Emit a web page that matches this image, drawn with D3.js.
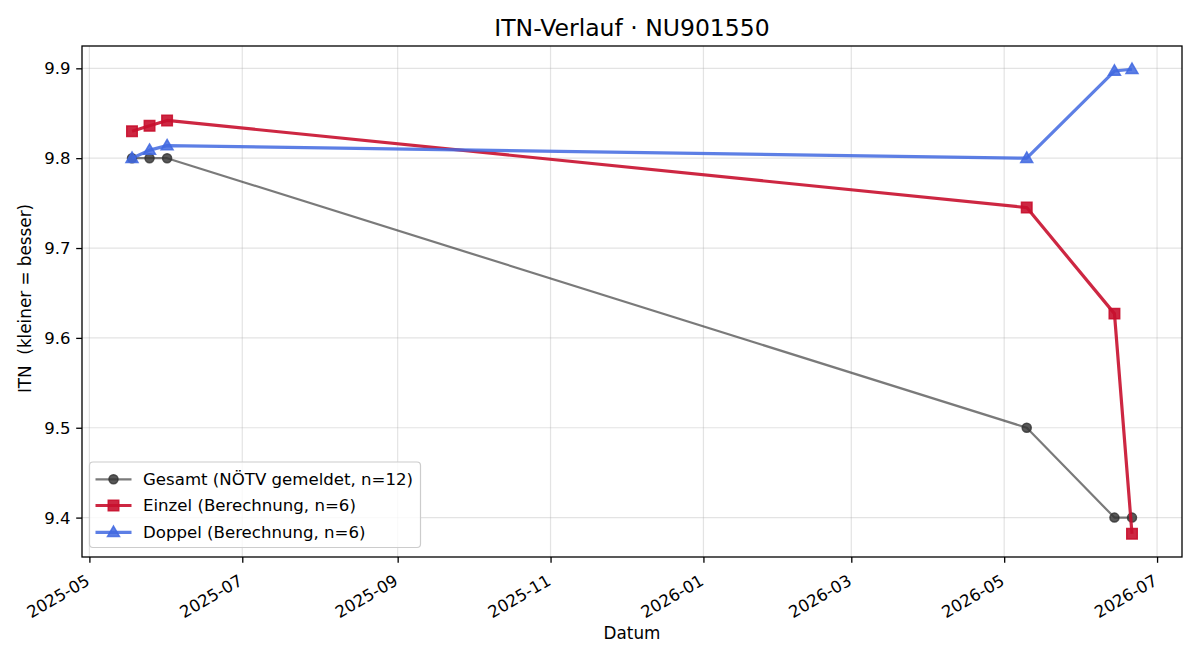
<!DOCTYPE html>
<html>
<head>
<meta charset="utf-8">
<script src="https://cdn.jsdelivr.net/npm/d3@7"></script>
<style>
  body { margin: 0; background: #fff; }
  text { font-family: "DejaVu Sans", sans-serif; fill: #000; }
</style>
</head>
<body>
<div id="chart"></div>
<script>
// data
var dates = ["2025-05-18", "2025-05-25", "2025-06-01", "2026-05-10", "2026-06-14", "2026-06-21"];
var gesamt = [9.8, 9.8, 9.8, 9.5, 9.4, 9.4];
var einzel = [9.83, 9.836, 9.842, 9.745, 9.627, 9.382];
var doppel = [9.8, 9.809, 9.814, 9.8, 9.897, 9.899];
var xTicks = ["2025-05", "2025-07", "2025-09", "2025-11", "2026-01", "2026-03", "2026-05", "2026-07"];
var yTicks = [9.4, 9.5, 9.6, 9.7, 9.8, 9.9];
var seriesNames = ["Gesamt (NÖTV gemeldet, n=12)", "Einzel (Berechnung, n=6)", "Doppel (Berechnung, n=6)"];

var width = 1200;
var height = 660;
// plot area edges
var pLeft = 82, pRight = 1182, pTop = 46, pBottom = 557;

var parseDay = d3.timeParse("%Y-%m-%d");
var parseMonth = d3.timeParse("%Y-%m");
var days = dates.map(parseDay);

var svg = d3.select("#chart")
    .append("svg")
    .attr("width", width)
    .attr("height", height);

// matplotlib style 5% margins
var xExt = d3.extent(days);
var xPad = (xExt[1] - xExt[0]) * 0.05;
var allY = gesamt.concat(einzel, doppel);
var yExt = d3.extent(allY);
var yPad = (yExt[1] - yExt[0]) * 0.05;

var xScale = d3.scaleTime()
    .domain([new Date(+xExt[0] - xPad), new Date(+xExt[1] + xPad)])
    .range([pLeft, pRight]);
var yScale = d3.scaleLinear()
    .domain([yExt[0] - yPad, yExt[1] + yPad])
    .range([pBottom, pTop]);

var tickDates = xTicks.map(parseMonth);

// grid
svg.append("g").selectAll("line").data(tickDates).enter()
    .append("line")
    .attr("x1", function(d) { return xScale(d); })
    .attr("x2", function(d) { return xScale(d); })
    .attr("y1", pTop).attr("y2", pBottom)
    .attr("stroke", "#b0b0b0").attr("stroke-opacity", 0.35).attr("stroke-width", 1.2);
svg.append("g").selectAll("line").data(yTicks).enter()
    .append("line")
    .attr("x1", pLeft).attr("x2", pRight)
    .attr("y1", function(d) { return yScale(d); })
    .attr("y2", function(d) { return yScale(d); })
    .attr("stroke", "#b0b0b0").attr("stroke-opacity", 0.35).attr("stroke-width", 1.2);

// axes
var xAxis = d3.axisBottom(xScale)
    .tickValues(tickDates)
    .tickSize(5.8)
    .tickFormat(d3.timeFormat("%Y-%m"));
var gx = svg.append("g")
    .attr("transform", "translate(0," + pBottom + ")")
    .call(xAxis);
gx.select(".domain").remove();
gx.selectAll(".tick line").attr("stroke", "#000").attr("stroke-width", 1.3);
gx.selectAll(".tick text")
    .attr("font-size", "16.5px")
    .attr("font-family", "DejaVu Sans")
    .attr("fill", "#000")
    .attr("text-anchor", "end")
    .attr("y", 0).attr("dy", 0)
    .attr("transform", "translate(1,27) rotate(-30)");

var yAxis = d3.axisLeft(yScale)
    .tickValues(yTicks)
    .tickSize(5.8)
    .tickFormat(d3.format(".1f"));
var gy = svg.append("g")
    .attr("transform", "translate(" + pLeft + ",0)")
    .call(yAxis);
gy.select(".domain").remove();
gy.selectAll(".tick line").attr("stroke", "#000").attr("stroke-width", 1.3);
gy.selectAll(".tick text")
    .attr("font-size", "16.5px")
    .attr("font-family", "DejaVu Sans")
    .attr("fill", "#000")
    .attr("x", -11.5)
    .attr("dy", "0.34em");

// frame
svg.append("rect")
    .attr("x", pLeft).attr("y", pTop)
    .attr("width", pRight - pLeft).attr("height", pBottom - pTop)
    .attr("fill", "none").attr("stroke", "#000").attr("stroke-width", 1.3);

// lines
var line = function(vals) {
    return d3.line()
        .x(function(d, i) { return xScale(days[i]); })
        .y(function(d) { return yScale(d); })(vals);
};

var styles = [
    { vals: gesamt, color: "#333333", op: 0.65, mop: 0.82, w: 2.2, shape: "circle" },
    { vals: einzel, color: "#c8102e", op: 0.9, mop: 0.9, w: 3.2, shape: "square" },
    { vals: doppel, color: "#4169e1", op: 0.85, mop: 0.85, w: 3.2, shape: "triangle" }
];

var symbolFor = function(shape) {
    if (shape === "circle") return d3.symbol().type(d3.symbolCircle).size(64)();
    if (shape === "square") return d3.symbol().type(d3.symbolSquare).size(110)();
    return "M0,-6.2L6,4.2L-6,4.2Z";
};

styles.forEach(function(s) {
    svg.append("path")
        .attr("d", line(s.vals))
        .attr("fill", "none")
        .attr("stroke", s.color)
        .attr("stroke-opacity", s.op)
        .attr("stroke-width", s.w)
        .attr("stroke-linejoin", "round");
    svg.append("g").selectAll("path").data(s.vals).enter()
        .append("path")
        .attr("d", symbolFor(s.shape))
        .attr("transform", function(d, i) {
            return "translate(" + xScale(days[i]) + "," + yScale(d) + ")";
        })
        .attr("fill", s.color)
        .attr("fill-opacity", s.mop)
        .attr("stroke", s.color)
        .attr("stroke-opacity", s.mop)
        .attr("stroke-width", 1.5);
});

// legend
var legend = svg.append("g");
legend.append("rect")
    .attr("x", 89.5).attr("y", 462)
    .attr("width", 331).attr("height", 85.5)
    .attr("rx", 3.5)
    .attr("fill", "#fff").attr("fill-opacity", 0.8)
    .attr("stroke", "#cccccc").attr("stroke-width", 1.2);
var rowY = [479.3, 505.5, 532.3];
styles.forEach(function(s, i) {
    var g = legend.append("g").attr("transform", "translate(0," + rowY[i] + ")");
    g.append("line")
        .attr("x1", 95.5).attr("x2", 131.5)
        .attr("stroke", s.color).attr("stroke-opacity", s.op)
        .attr("stroke-width", s.w);
    g.append("path")
        .attr("d", symbolFor(s.shape))
        .attr("transform", "translate(113.5,0)")
        .attr("fill", s.color).attr("fill-opacity", s.mop)
        .attr("stroke", s.color).attr("stroke-opacity", s.mop)
        .attr("stroke-width", 1.5);
    g.append("text")
        .attr("x", 143)
        .attr("dy", "0.36em")
        .attr("font-size", "16.6px")
        .text(seriesNames[i]);
});

// title and labels
svg.append("text")
    .attr("x", (pLeft + pRight) / 2)
    .attr("y", 36)
    .attr("text-anchor", "middle")
    .attr("font-size", "23.5px")
    .text("ITN-Verlauf · NU901550");

svg.append("text")
    .attr("x", (pLeft + pRight) / 2)
    .attr("y", 638.5)
    .attr("text-anchor", "middle")
    .attr("font-size", "16.8px")
    .text("Datum");

svg.append("text")
    .attr("transform", "translate(30.5," + ((pTop + pBottom) / 2 - 3) + ") rotate(-90)")
    .attr("text-anchor", "middle")
    .attr("font-size", "16.8px")
    .attr("xml:space", "preserve")
    .style("white-space", "pre")
    .text("ITN  (kleiner = besser)");
</script>
</body>
</html>
